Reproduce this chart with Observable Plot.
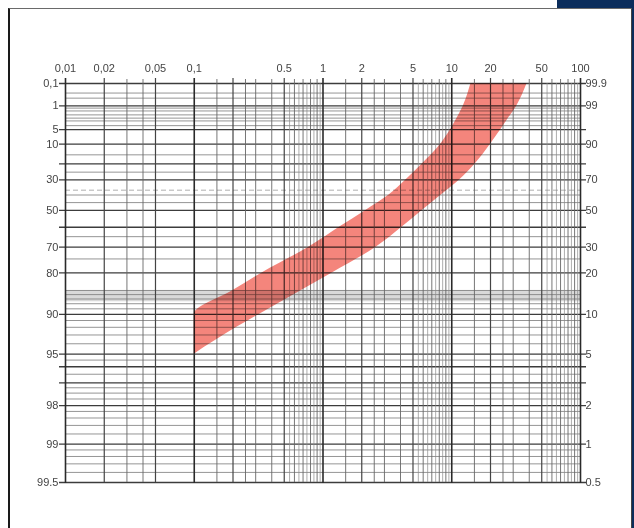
<!DOCTYPE html>
<html><head><meta charset="utf-8">
<script src="https://cdn.jsdelivr.net/npm/d3@7"></script>
<script src="https://cdn.jsdelivr.net/npm/@observablehq/plot@0.6"></script>
<style>
html,body{margin:0;padding:0;background:#fff;}
#wrap{position:relative;width:634px;height:528px;overflow:hidden;background:#fff;}
#chart svg{display:block;}
#frame{position:absolute;left:8px;top:8px;width:621px;height:560px;border-left:2px solid #1a1a1a;border-top:1.5px solid #6a6a6a;border-right:1.5px solid #444;pointer-events:none;}
#corner{position:absolute;left:557px;top:0;width:77px;height:8px;background:#0b2d5b;}
#strip{position:absolute;left:632px;top:0;width:2px;height:528px;background:#0b2d5b;}
</style></head>
<body><div id="wrap"><div id="chart"></div><div id="frame"></div><div id="corner"></div><div id="strip"></div></div>
<script>
// ---- data ----
// particle size axis (top)
const xLabelValues = [0.01, 0.02, 0.05, 0.1, 0.5, 1, 2, 5, 10, 20, 50, 100];
const xLabelTexts = ["0,01", "0,02", "0,05", "0,1", "0.5", "1", "2", "5", "10", "20", "50", "100"];
const xMajor = [0.01, 0.1, 1, 10, 100];
const xMedium = [0.02, 0.05, 0.2, 0.5, 2, 5, 20, 50];
const xMinor = [0.03, 0.04, 0.15, 0.25, 0.3, 0.4, 0.6, 0.7, 0.8, 0.9,
  1.5, 2.5, 3, 4, 6, 7, 8, 9, 15, 25, 30, 40, 60, 70, 80, 90];
const xFine = [0.55, 0.65, 0.75, 0.85, 0.95, 5.5, 6.5, 7.5, 8.5, 9.5, 55, 65, 75, 85, 95];

// residue R (%) axis, left labels, right labels = passing (100 - R)
const leftValues = [0.1, 1, 5, 10, 30, 50, 70, 80, 90, 95, 98, 99, 99.5];
const leftTexts = ["0,1", "1", "5", "10", "30", "50", "70", "80", "90", "95", "98", "99", "99.5"];
const rightValues = [0.1, 1, 10, 30, 50, 70, 80, 90, 95, 98, 99, 99.5];
const rightTexts = ["99.9", "99", "90", "70", "50", "30", "20", "10", "5", "2", "1", "0.5"];
const hMajor = [0.1, 1, 5, 10, 20, 30, 50, 60, 70, 80, 90, 95, 96, 97, 98, 99, 99.5];
const hMinor = [0.3, 0.5, 1.2, 1.5, 2, 2.5, 3, 4, 15, 25, 40, 45, 65, 75,
  85, 86, 87, 88, 89, 91, 92, 93, 94, 95.5, 96.5, 97.25, 97.5, 97.75,
  98.2, 98.4, 98.6, 98.8, 99.1, 99.2, 99.3, 99.4];
const hCharacteristic = [36.79];
const grayBand = [[85, 87.6]];

// shaded grading band: residue R and the two boundary sizes
const bandR = [0.1, 1, 3, 5, 10, 20, 30, 40, 50, 60, 70, 80, 85, 90, 92, 95];
const bandFine = [14.1, 12.3, 10.7, 9.8, 8.2, 5.9, 4.4, 3.26, 2.15, 1.34, 0.78, 0.336, 0.2, 0.1, 0.1, 0.1];
const bandCoarse = [38.5, 32, 26.7, 24.1, 20, 15.2, 11.5, 8.3, 5.9, 4.1, 2.6, 1.18, 0.68, 0.32, 0.214, 0.1];

// ---- chart ----
const f = R => Math.log10(Math.log(100 / R)); // RRSB ordinate
const band = bandR.map((R, i) => ({R, fine: bandFine[i], coarse: bandCoarse[i]}));
const xLabels = xLabelValues.map((v, i) => ({v, t: xLabelTexts[i]}));
const leftLabels = leftValues.map((R, i) => ({R, t: leftTexts[i]}));
const rightLabels = rightValues.map((R, i) => ({R, t: rightTexts[i]}));

const chart = Plot.plot({
  width: 634, height: 528,
  marginLeft: 65, marginRight: 54, marginTop: 83, marginBottom: 46,
  style: {background: "transparent", fontFamily: "'Liberation Sans', Arial, sans-serif", fontSize: "11px"},
  x: {type: "log", domain: [0.01, 100], axis: null},
  y: {type: "linear", domain: [f(99.5), f(0.1)], axis: null},
  marks: [
    Plot.rect(grayBand, {x1: () => 0.01, x2: () => 100, y1: d => f(d[0]), y2: d => f(d[1]), fill: "#d9d9d9"}),
    Plot.ruleY(hMinor, {y: f, stroke: "#7a7a7a", strokeWidth: 0.8}),
    Plot.ruleY(hCharacteristic, {y: f, stroke: "#b0b0b0", strokeWidth: 1, strokeDasharray: "5,3"}),
    Plot.ruleY(hMajor, {y: f, stroke: "#3c3c3c", strokeWidth: 1.3, insetLeft: -6, insetRight: -6}),
    Plot.ruleX(xFine, {stroke: "#8a8a8a", strokeWidth: 0.7}),
    Plot.ruleX(xMinor, {stroke: "#666", strokeWidth: 0.9, insetTop: -4}),
    Plot.ruleX(xMedium, {stroke: "#444", strokeWidth: 1.2, insetTop: -5}),
    Plot.ruleX(xMajor, {stroke: "#2a2a2a", strokeWidth: 1.6, insetTop: -5, insetBottom: -1}),
    Plot.areaX(band, {y: d => f(d.R), x1: "fine", x2: "coarse", fill: "#f4857c", curve: "monotone-y", mixBlendMode: "multiply"}),
    Plot.text(xLabels, {x: "v", text: "t", frameAnchor: "top", dy: -19, fill: "#444"}),
    Plot.text(leftLabels, {y: d => f(d.R), text: "t", frameAnchor: "left", textAnchor: "end", dx: -7, fill: "#444"}),
    Plot.text(rightLabels, {y: d => f(d.R), text: "t", frameAnchor: "right", textAnchor: "start", dx: 5, fill: "#444"})
  ]
});
document.getElementById("chart").appendChild(chart);
</script>
</body></html>
